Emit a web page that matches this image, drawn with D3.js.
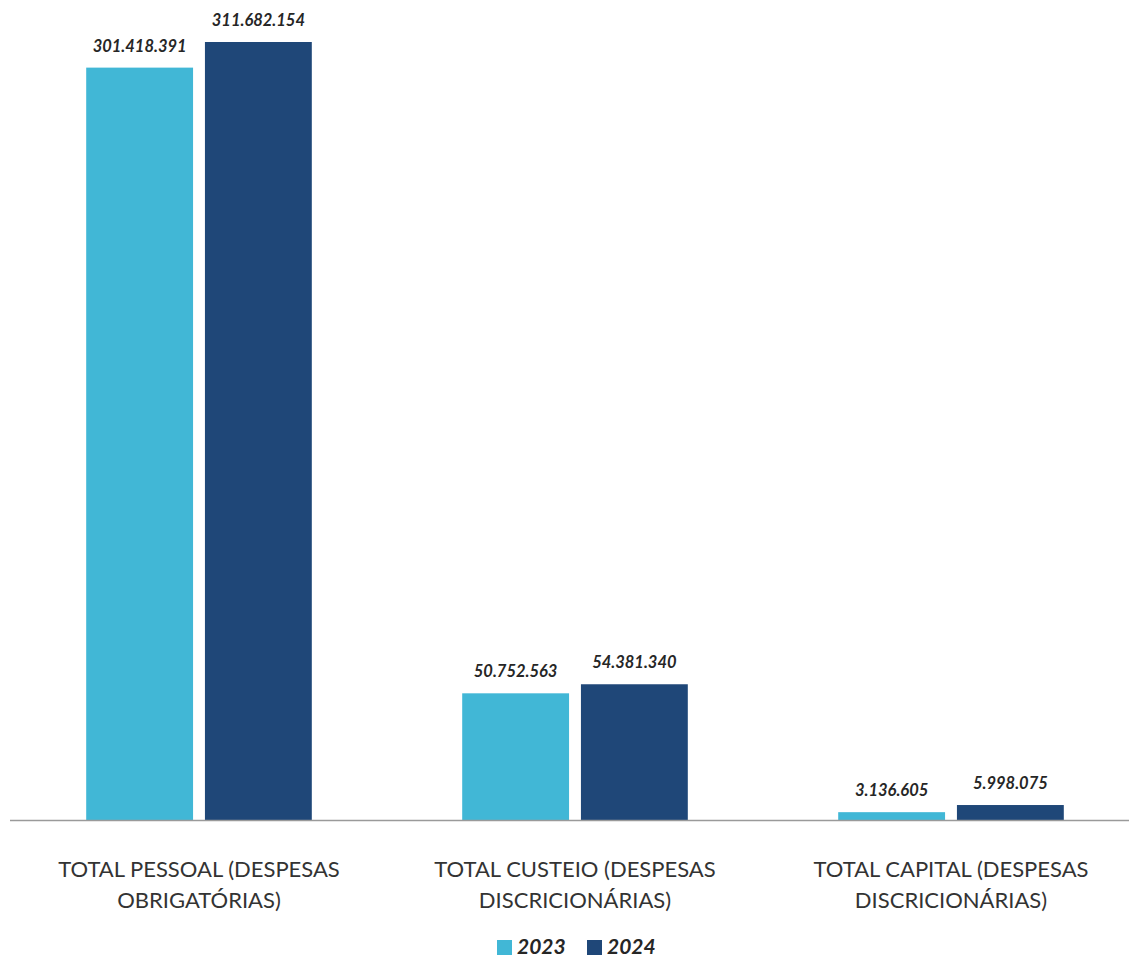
<!DOCTYPE html>
<html><head><meta charset="utf-8">
<script src="https://cdn.jsdelivr.net/npm/d3@7"></script>
<style>body{margin:0;background:#fff}svg{display:block}</style>
</head><body>
<svg id="c" width="1129" height="961"></svg>
<script>
const categories = [
  ["TOTAL PESSOAL (DESPESAS", "OBRIGATÓRIAS)"],
  ["TOTAL CUSTEIO (DESPESAS", "DISCRICIONÁRIAS)"],
  ["TOTAL CAPITAL (DESPESAS", "DISCRICIONÁRIAS)"]
];
const seriesNames = ["2023", "2024"];
const values2023 = [301418391, 50752563, 3136605];
const values2024 = [311682154, 54381340, 5998075];
const colors = ["#41B7D6", "#1F4778"];

const svg = d3.select("#c");
const font = "Lato, 'Open Sans', sans-serif";
const baseY = 820, topY = 42;
const x0 = d3.scaleBand().domain(d3.range(categories.length)).range([11, 1139]).paddingInner(0.4).paddingOuter(0.2);
const x1 = d3.scaleBand().domain(seriesNames).range([0, x0.bandwidth()]).paddingInner(0.1);
const y = d3.scaleLinear().domain([0, d3.max(values2024.concat(values2023))]).range([baseY, topY]);
const fmt = v => d3.format(",")(v).replace(/,/g, ".");

const data = categories.map((c, i) => ({c, i, vals: [values2023[i], values2024[i]]}));
const g = svg.selectAll("g.grp").data(data).join("g").attr("transform", d => `translate(${x0(d.i)},0)`);
g.selectAll("rect").data(d => d.vals.map((v, k) => ({v, k}))).join("rect")
  .attr("x", d => x1(seriesNames[d.k])).attr("width", x1.bandwidth())
  .attr("y", d => y(d.v)).attr("height", d => baseY - y(d.v))
  .attr("fill", d => colors[d.k]);
g.selectAll("text.val").data(d => d.vals.map((v, k) => ({v, k}))).join("text")
  .attr("class", "val")
  .attr("x", d => x1(seriesNames[d.k]) + x1.bandwidth() / 2)
  .attr("y", d => y(d.v) - 16)
  .attr("text-anchor", "middle").attr("font-family", font).attr("font-size", 16.5)
  .attr("font-weight", "bold").attr("font-style", "italic").attr("fill", "#262626")
  .text(d => fmt(d.v));

svg.append("line").attr("x1", 10).attr("x2", 1129).attr("y1", baseY + 0.5).attr("y2", baseY + 0.5)
  .attr("stroke", "#9a9a9a").attr("stroke-width", 1.5);

g.append("text").attr("x", x0.bandwidth() / 2).attr("text-anchor", "middle")
  .attr("font-family", font).attr("font-size", 22).attr("fill", "#333")
  .selectAll("tspan").data(d => d.c).join("tspan")
  .attr("x", x0.bandwidth() / 2).attr("y", (d, k) => 877 + k * 31).text(d => d);

const legend = svg.append("g");
const lx = [497, 587];
seriesNames.forEach((s, k) => {
  legend.append("rect").attr("x", lx[k]).attr("y", 940).attr("width", 15).attr("height", 15).attr("fill", colors[k]);
  legend.append("text").attr("x", lx[k] + 20).attr("y", 954).attr("font-family", font).attr("font-size", 21)
    .attr("font-weight", "bold").attr("font-style", "italic").attr("fill", "#262626").text(s);
});
</script>
</body></html>
